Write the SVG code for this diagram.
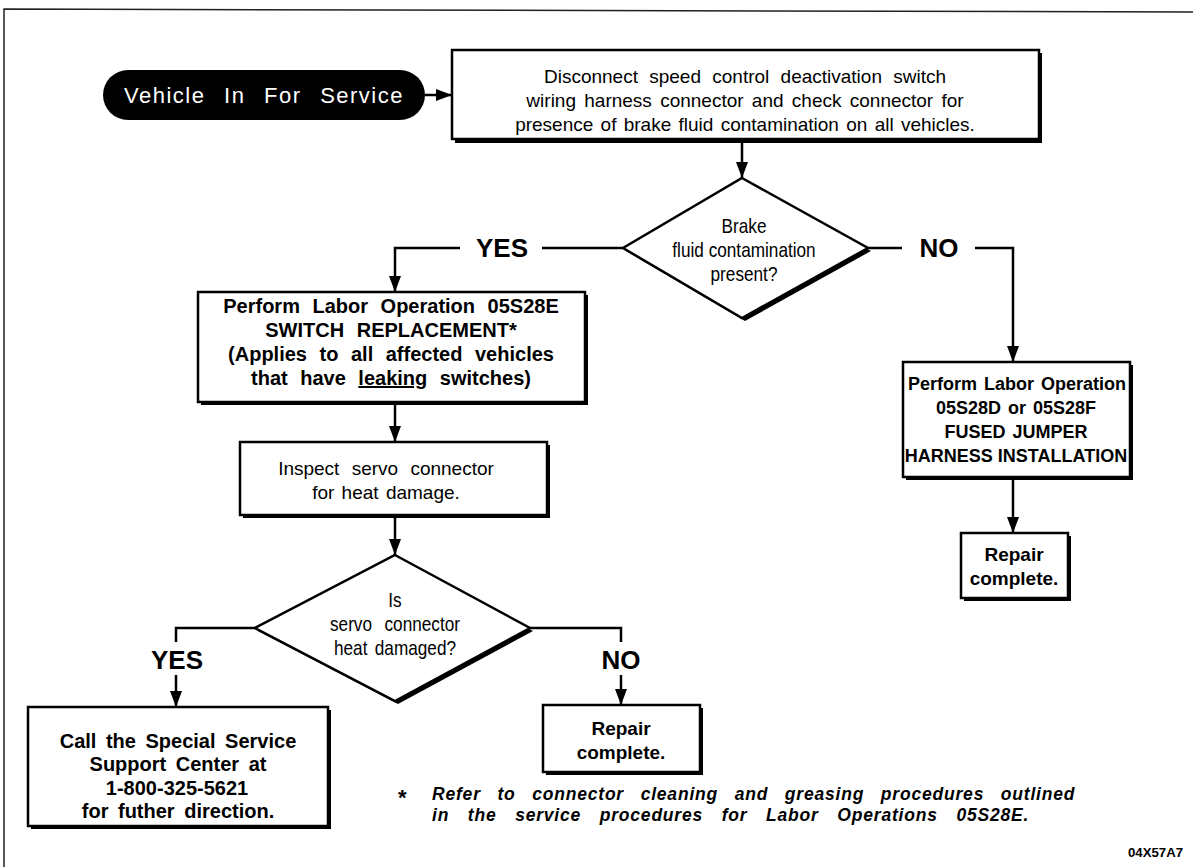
<svg xmlns="http://www.w3.org/2000/svg" width="1193" height="867" viewBox="0 0 1193 867">
<defs>
<style>
.box{fill:#fff;stroke:#000;stroke-width:2.5}
.sh{fill:#000;stroke:none}
.t{font-family:"Liberation Sans",Arial,sans-serif;font-size:19px;fill:#000;text-anchor:middle}
.b{font-weight:bold}
.n{font-size:20px}
.c{fill:none;stroke:#000;stroke-width:2.5}
.lab{font-family:"Liberation Sans",Arial,sans-serif;font-size:26px;font-weight:bold;text-anchor:middle}
.fn{font-family:"Liberation Sans",Arial,sans-serif;font-size:17.5px;font-weight:bold;font-style:italic;letter-spacing:0.8px}
</style>
<marker id="arr" markerUnits="userSpaceOnUse" viewBox="0 0 16 12" refX="16" refY="6" markerWidth="16" markerHeight="12" orient="auto">
<path d="M0,0 L16,6 L0,12 z" fill="#000"/>
</marker>
</defs>
<rect width="1193" height="867" fill="#fff"/>
<path d="M4,867 L4,9 L1193,12" fill="none" stroke="#222" stroke-width="1.5"/>

<g id="start">
<rect x="103" y="70" width="322" height="50" rx="25" fill="#000"/>
<text x="264" y="103" class="t" style="font-size:22px;fill:#fff;letter-spacing:1.5px;word-spacing:11px">Vehicle In For Service</text>
</g>

<g id="disconnect">
<rect x="455" y="53" width="587" height="90" class="sh"/>
<rect x="452" y="50" width="587" height="89" class="box"/>
<text class="t" x="745" y="83" style="word-spacing:6px">Disconnect speed control deactivation switch</text>
<text class="t" x="745" y="107" style="word-spacing:3px">wiring harness connector and check connector for</text>
<text class="t" x="745" y="131" style="word-spacing:2px">presence of brake fluid contamination on all vehicles.</text>
</g>

<g id="brake-decision">
<polygon points="745,181 871,251 745,321 626,251" class="sh"/>
<polygon points="742,178 868,248 742,318 623,248" class="box"/>
<g transform="translate(744 0) scale(0.86 1)">
<text class="t n" x="0" y="233">Brake</text>
<text class="t n" x="0" y="257">fluid contamination</text>
<text class="t n" x="0" y="281">present?</text>
</g>
</g>

<g id="switch-replacement">
<rect x="201" y="295" width="387" height="110" class="sh"/>
<rect x="198" y="292" width="387" height="110" class="box"/>
<g class="t b" style="font-size:20px;word-spacing:7px">
<text x="391" y="313">Perform Labor Operation 05S28E</text>
<text x="391" y="337">SWITCH REPLACEMENT*</text>
<text x="391" y="361">(Applies to all affected vehicles</text>
<text x="391" y="385">that have <tspan text-decoration="underline">leaking</tspan> switches)</text>
</g>
</g>

<g id="inspect-servo">
<rect x="243" y="445" width="307" height="73" class="sh"/>
<rect x="240" y="442" width="307" height="73" class="box"/>
<text class="t" x="386" y="475" style="word-spacing:7px">Inspect servo connector</text>
<text class="t" x="386" y="499" style="word-spacing:2px">for heat damage.</text>
</g>

<g id="servo-decision">
<polygon points="398,558 533,631 398,704 258,631" class="sh"/>
<polygon points="395,555 530,628 395,701 255,628" class="box"/>
<g transform="translate(395 0) scale(0.86 1)">
<text class="t n" x="0" y="607">Is</text>
<text class="t n" x="0" y="631" style="word-spacing:9px">servo connector</text>
<text class="t n" x="0" y="655" style="word-spacing:3px">heat damaged?</text>
</g>
</g>

<g id="call-center">
<rect x="31" y="710" width="300" height="119" class="sh"/>
<rect x="28" y="707" width="300" height="119" class="box"/>
<g class="t b" style="font-size:20px;word-spacing:4px">
<text x="178" y="748">Call the Special Service</text>
<text x="178" y="771">Support Center at</text>
<text x="177" y="795">1-800-325-5621</text>
<text x="178" y="818">for futher direction.</text>
</g>
</g>

<g id="repair-left">
<rect x="546" y="708" width="157" height="67" class="sh"/>
<rect x="543" y="705" width="157" height="67" class="box"/>
<text class="t b" x="621" y="735">Repair</text>
<text class="t b" x="621" y="759">complete.</text>
</g>

<g id="jumper-harness">
<rect x="906" y="365" width="227" height="115" class="sh"/>
<rect x="903" y="362" width="227" height="115" class="box"/>
<g class="t b" style="font-size:18px">
<text x="1017" y="390" style="word-spacing:2px">Perform Labor Operation</text>
<text x="1016" y="414" style="word-spacing:2px">05S28D or 05S28F</text>
<text x="1016" y="438" style="word-spacing:2px">FUSED JUMPER</text>
<text x="1016" y="462">HARNESS INSTALLATION</text>
</g>
</g>

<g id="repair-right">
<rect x="964" y="536" width="107" height="65" class="sh"/>
<rect x="961" y="533" width="107" height="65" class="box"/>
<text class="t b" x="1014" y="561">Repair</text>
<text class="t b" x="1014" y="585">complete.</text>
</g>

<g id="connectors">
<line x1="425" y1="95" x2="452" y2="95" class="c" marker-end="url(#arr)"/>
<line x1="742" y1="140" x2="742" y2="178" class="c" marker-end="url(#arr)"/>
<line x1="623" y1="248" x2="542" y2="248" class="c"/>
<polyline points="460,248 395,248 395,292" class="c" marker-end="url(#arr)"/>
<line x1="868" y1="248" x2="902" y2="248" class="c"/>
<polyline points="975,248 1013,248 1013,362" class="c" marker-end="url(#arr)"/>
<line x1="395" y1="402" x2="395" y2="442" class="c" marker-end="url(#arr)"/>
<line x1="395" y1="515" x2="395" y2="555" class="c" marker-end="url(#arr)"/>
<polyline points="255,628 176,628 176,642" class="c"/>
<line x1="176" y1="675" x2="176" y2="707" class="c" marker-end="url(#arr)"/>
<polyline points="530,628 621,628 621,642" class="c"/>
<line x1="621" y1="675" x2="621" y2="705" class="c" marker-end="url(#arr)"/>
<line x1="1013" y1="477" x2="1013" y2="533" class="c" marker-end="url(#arr)"/>
<text class="lab" x="502" y="257">YES</text>
<text class="lab" x="939" y="257">NO</text>
<text class="lab" x="177" y="669">YES</text>
<text class="lab" x="621" y="669">NO</text>
</g>

<g id="footnote">
<text x="398" y="805" style="font-family:'Liberation Sans',Arial,sans-serif;font-size:22px;font-weight:bold">*</text>
<text x="432" y="800" class="fn" style="word-spacing:11px">Refer to connector cleaning and greasing procedures outlined</text>
<text x="432" y="821" class="fn" style="word-spacing:13px">in the service procedures for Labor Operations 05S28E.</text>
</g>
<text x="1183" y="857" text-anchor="end" style="font-family:'Liberation Sans',Arial,sans-serif;font-size:13px;font-weight:bold" textLength="55" lengthAdjust="spacingAndGlyphs">04X57A7</text>
</svg>
